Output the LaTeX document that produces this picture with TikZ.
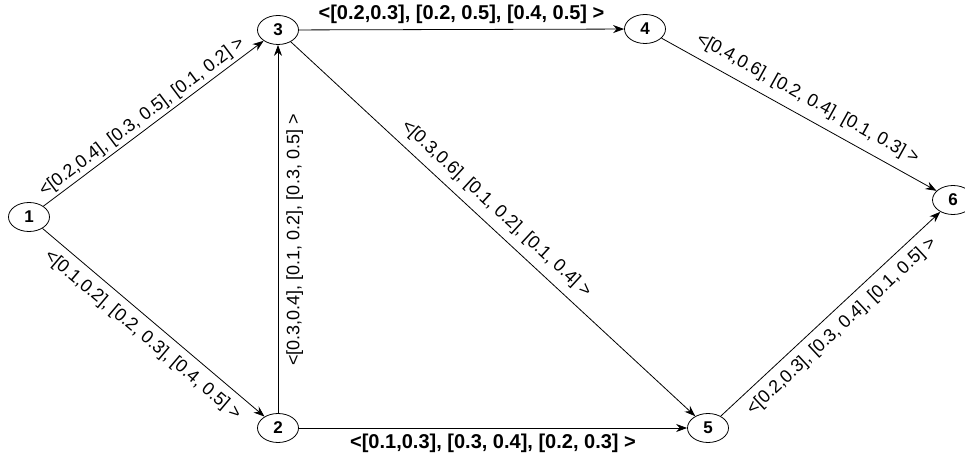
\documentclass[tikz,border=0pt]{standalone}
\usepackage{fontspec}
\setmainfont{Liberation Sans}
\usetikzlibrary{shapes.geometric,arrows.meta}

\begin{document}
\begin{tikzpicture}[x=1pt, y=1pt, >={Stealth[length=11pt,width=8pt]}, line width=0.8pt,
  vertex/.style={draw, ellipse, minimum width=41pt, minimum height=29pt, inner sep=0pt, font=\fontsize{17}{17}\selectfont\bfseries},
  lbl/.style={font=\fontsize{18}{18}\selectfont, inner sep=8pt},
  hlbl/.style={font=\fontsize{20}{20}\selectfont\bfseries, inner sep=5pt}]
\useasboundingbox (0,0) rectangle (965,454);
\node[vertex] (n1) at (29,237) {1};
\node[vertex] (n2) at (278,26) {2};
\node[vertex] (n3) at (278,424) {3};
\node[vertex] (n4) at (645,425) {4};
\node[vertex] (n5) at (708,26) {5};
\node[vertex] (n6) at (953,254) {6};
\draw[->] (n1) -- node[lbl, sloped, above, pos=0.48, inner sep=3pt] {<[0.2,0.4], [0.3, 0.5], [0.1, 0.2] >} (n3);
\draw[->] (n1) -- node[lbl, sloped, below] {<[0.1,0.2], [0.2, 0.3], [0.4, 0.5] >} (n2);
\draw[->] (n2) -- node[lbl, sloped, below, pos=0.47] {<[0.3,0.4], [0.1, 0.2], [0.3, 0.5] >} (n3);
\draw[->] (n3) -- node[hlbl, above] {<[0.2,0.3], [0.2, 0.5], [0.4, 0.5] >} (n4);
\draw[->] (n3) -- node[lbl, sloped, above, pos=0.48] {<[0.3,0.6], [0.1, 0.2], [0.1, 0.4] >} (n5);
\draw[->] (n2) -- node[hlbl, below, inner sep=6pt] {<[0.1,0.3], [0.3, 0.4], [0.2, 0.3] >} (n5);
\draw[->] (n4) -- node[lbl, sloped, above, inner sep=9pt] {<[0.4,0.6], [0.2, 0.4], [0.1, 0.3] >} (n6);
\draw[->] (n5) -- node[lbl, sloped, below] {<[0.2,0.3], [0.3, 0.4], [0.1, 0.5] >} (n6);
\end{tikzpicture}
\end{document}
